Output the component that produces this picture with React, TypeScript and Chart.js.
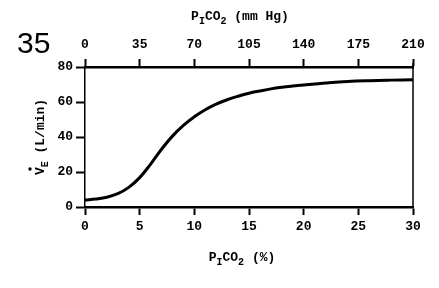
import React, { useEffect, useRef } from "react";
import { Chart, registerables } from "chart.js";

Chart.register(...registerables);

const pctCO2 = [0, 1, 2, 3, 4, 5, 6, 7, 8, 9, 10, 11, 12, 13, 14, 15, 16, 17, 18, 19, 20, 22, 24, 26, 28, 30];
const ventilation = [4, 4.6, 5.6, 7.6, 11.2, 16.8, 24.5, 33, 40.5, 46.6, 51.6, 55.6, 58.8, 61.3, 63.3, 65, 66.3, 67.5, 68.4, 69.1, 69.7, 70.8, 71.7, 72.2, 72.5, 72.7];
const yTicks = [0, 20, 40, 60, 80];
const bottomTicks = [0, 5, 10, 15, 20, 25, 30];
const topTicks = [0, 35, 70, 105, 140, 175, 210];
const figureNumber = "35";

const MONO = "bold 13px 'Liberation Mono', 'DejaVu Sans Mono', monospace";
const MONO_SUB = "bold 10px 'Liberation Mono', 'DejaVu Sans Mono', monospace";

type Part = { t: string; sub?: boolean };

function drawRich(ctx: CanvasRenderingContext2D, parts: Part[], cx: number, y: number) {
  let total = 0;
  const widths = parts.map((p) => {
    ctx.font = p.sub ? MONO_SUB : MONO;
    const w = ctx.measureText(p.t).width;
    total += w;
    return w;
  });
  let x = cx - total / 2;
  ctx.textBaseline = "alphabetic";
  ctx.textAlign = "left";
  parts.forEach((p, i) => {
    ctx.font = p.sub ? MONO_SUB : MONO;
    ctx.fillText(p.t, x, p.sub ? y + 4 : y);
    x += widths[i];
  });
}

const decorPlugin = {
  id: "decor",
  afterDraw(chart: any) {
    const ctx: CanvasRenderingContext2D = chart.ctx;
    const a = chart.chartArea;
    ctx.save();
    ctx.fillStyle = "#000";
    ctx.strokeStyle = "#000";
    // right frame line
    ctx.lineWidth = 1.5;
    ctx.beginPath();
    ctx.moveTo(a.right, a.top - 4);
    ctx.lineTo(a.right, a.bottom + 1);
    ctx.stroke();
    // top title
    drawRich(ctx, [{ t: "P" }, { t: "I", sub: true }, { t: "CO" }, { t: "2", sub: true }, { t: " (mm Hg)" }], 240, 20);
    // bottom title
    drawRich(ctx, [{ t: "P" }, { t: "I", sub: true }, { t: "CO" }, { t: "2", sub: true }, { t: " (%)" }], 242, 261);
    // y title rotated
    ctx.save();
    ctx.translate(44, 137);
    ctx.rotate(-Math.PI / 2);
    drawRich(ctx, [{ t: "V" }, { t: "E", sub: true }, { t: " (L/min)" }], 0, 0);
    ctx.restore();
    // dot over V
    ctx.beginPath();
    ctx.arc(30, 169, 1.7, 0, Math.PI * 2);
    ctx.fill();
    // figure number
    ctx.font = "30px 'Liberation Sans', Arial, sans-serif";
    ctx.textAlign = "left";
    ctx.textBaseline = "alphabetic";
    ctx.fillText(figureNumber, 17, 53);
    ctx.restore();
  },
};

export default function App() {
  const ref = useRef<HTMLCanvasElement>(null);
  useEffect(() => {
    if (!ref.current) return;
    const tickFont = { family: "'Liberation Mono', 'DejaVu Sans Mono', monospace", size: 13, weight: "bold" as const };
    const chart = new Chart(ref.current, {
      type: "line",
      data: {
        datasets: [
          {
            data: pctCO2.map((x, i) => ({ x, y: ventilation[i] })),
            borderColor: "#000",
            borderWidth: 3,
            pointRadius: 0,
            tension: 0.4,
            xAxisID: "x",
            yAxisID: "y",
          },
        ],
      },
      options: {
        responsive: false,
        animation: false,
        maintainAspectRatio: false,
        layout: { padding: { left: 0, right: 26, top: 0, bottom: 0 } },
        plugins: { legend: { display: false }, tooltip: { enabled: false } },
        scales: {
          x: {
            type: "linear",
            position: "bottom",
            min: 0,
            max: 30,
            afterBuildTicks: (s: any) => { s.ticks = bottomTicks.map((v) => ({ value: v })); },
            afterFit: (s: any) => { s.height = 81; },
            ticks: { color: "#000", font: tickFont, padding: 4, maxRotation: 0 },
            grid: { drawOnChartArea: false, drawTicks: true, tickLength: 8, tickWidth: 2, color: "#000" },
            border: { display: true, color: "#000", width: 2.5 },
          },
          x2: {
            type: "linear",
            position: "top",
            min: 0,
            max: 210,
            afterBuildTicks: (s: any) => { s.ticks = topTicks.map((v) => ({ value: v })); },
            afterFit: (s: any) => { s.height = 67; },
            ticks: { color: "#000", font: tickFont, padding: 6, maxRotation: 0 },
            grid: { drawOnChartArea: false, drawTicks: true, tickLength: 8, tickWidth: 2, color: "#000" },
            border: { display: true, color: "#000", width: 2.5 },
          },
          y: {
            type: "linear",
            min: 0,
            max: 80,
            afterBuildTicks: (s: any) => { s.ticks = yTicks.map((v) => ({ value: v })); },
            afterFit: (s: any) => { s.width = 85; },
            ticks: { color: "#000", font: tickFont, padding: 3 },
            grid: { drawOnChartArea: false, drawTicks: true, tickLength: 9, tickWidth: 2, color: "#000" },
            border: { display: true, color: "#000", width: 1.5 },
          },
        },
      },
      plugins: [decorPlugin],
    } as any);
    return () => chart.destroy();
  }, []);
  return (
    <div style={{ position: "fixed", left: 0, top: 0, width: 439, height: 288, background: "#fff" }}>
      <canvas ref={ref} width={439} height={288} style={{ width: 439, height: 288 }} />
    </div>
  );
}
